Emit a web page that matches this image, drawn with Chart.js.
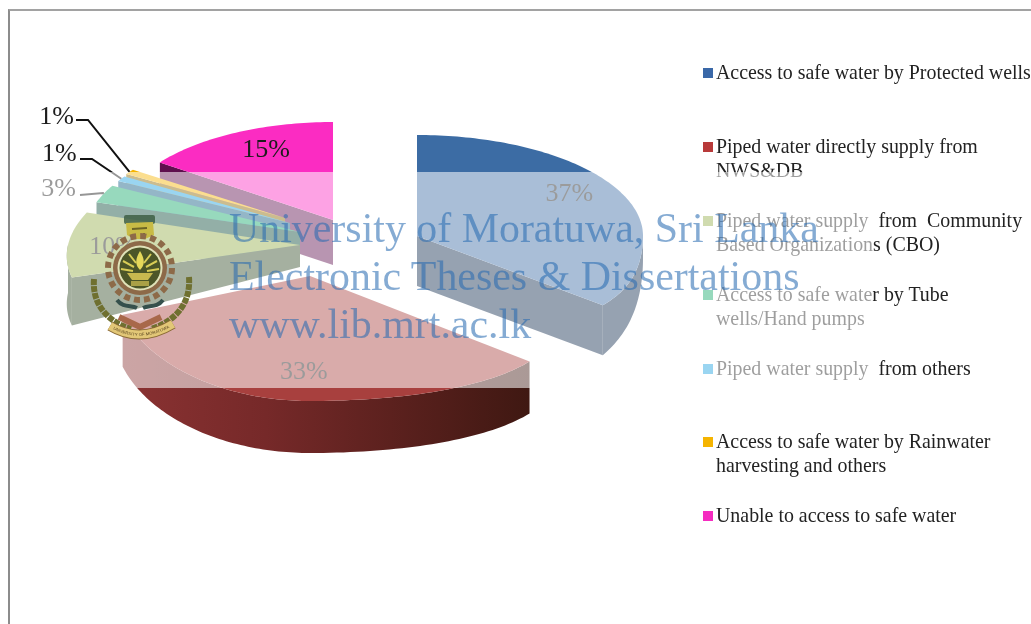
<!DOCTYPE html>
<html>
<head>
<meta charset="utf-8">
<title>Access to safe water</title>
<script src="https://cdn.jsdelivr.net/npm/chart.js@4/dist/chart.umd.min.js"></script>
<style>
    html, body { margin: 0; padding: 0; background: #fff; overflow: hidden; }
    #page { position: relative; width: 1031px; height: 624px; overflow: hidden; font-family: "Liberation Serif", serif; }
    #pieChart { position: absolute; left: 0; top: 0; }
    #frame { position: absolute; left: 8px; top: 9px; width: 1040px; height: 640px; border-top: 2px solid #a2a2a2; border-left: 2px solid #8c8c8c; }
    .legend-row { position: absolute; left: 716px; font-size: 19.9px; line-height: 23.5px; color: #222; white-space: pre; }
    .legend-box { position: absolute; left: 703px; width: 10px; height: 10px; }
    #band { position: absolute; left: 30px; top: 172px; width: 843px; height: 216px; background: rgba(255, 255, 255, 0.56); }
    .mark-line { position: absolute; left: 229px; font-size: 41.9px; line-height: 48px; white-space: nowrap; color: rgba(38, 106, 176, 0.56); }
    #crest { position: absolute; left: 85px; top: 205px; }
</style>
</head>
<body>
<div id="page">
    <canvas id="pieChart" width="1031" height="624"></canvas>
    <div id="frame"></div>
    <div id="legend"></div>
    <div id="band"></div>
    <div class="mark-line" style="top: 204px">University of Moratuwa, Sri Lanka</div>
    <div class="mark-line" style="top: 252px">Electronic Theses &amp; Dissertations</div>
    <div class="mark-line" style="top: 300px">www.lib.mrt.ac.lk</div>
    <svg id="crest" width="110" height="140" viewBox="0 0 110 140">
        <!-- lion on top -->
        <rect x="39" y="10" width="31" height="9" rx="2" fill="#3f5f45" opacity="0.85"/>
        <path d="M41 18 L68 17 L69 30 L60 34 L49 34 L42 30 Z" fill="#c8bb45"/>
        <path d="M47 24 L62 23 M50 29 L50 34 M59 28 L59 34" stroke="#6b6426" stroke-width="2" fill="none"/>
        <!-- wreath -->
        <path d="M9 74 C7 98 21 116 46 124" stroke="#6f7030" stroke-width="6" fill="none" stroke-dasharray="6 1"/>
        <path d="M104 72 C106 98 91 116 66 124" stroke="#6f7030" stroke-width="6" fill="none" stroke-dasharray="6 1"/>
        <path d="M32 95 C38 103 46 100 52 103 M78 95 C72 103 64 100 58 103" stroke="#35504c" stroke-width="4" fill="none"/>
        <path d="M34 112 L55 122 L76 112" stroke="#a8684a" stroke-width="6" fill="none"/>
        <!-- gear -->
        <circle cx="55" cy="63" r="32" fill="none" stroke="#8d6a48" stroke-width="6" stroke-dasharray="6 4.05"/>
        <circle cx="55" cy="63" r="27" fill="#8d6a48"/>
        <circle cx="55" cy="63" r="22.5" fill="#dfe2b8"/>
        <circle cx="55" cy="63" r="20.5" fill="#4c5628"/>
        <!-- flame and bowl -->
        <path d="M55 46 C60 54 60 60 55 65 C50 60 50 54 55 46 Z" fill="#e5d85a"/>
        <path d="M38 56 L49 62 M72 56 L61 62 M36 64 L48 66 M74 64 L62 66 M44 49 L51 58 M66 49 L59 58" stroke="#d8cd56" stroke-width="2"/>
        <path d="M42 68 L68 68 L63 75 L47 75 Z" fill="#c9b94f"/>
        <rect x="46" y="76" width="18" height="5" fill="#a9a046"/>
        <!-- ribbon -->
        <path id="ribbonPath" d="M25 121 Q55 139 88 119" stroke="#8a6a35" stroke-width="10" fill="none"/>
        <path d="M25 121 Q55 139 88 119" stroke="#e2c777" stroke-width="8" fill="none"/>
        <text font-size="4.2" font-family="Liberation Sans" fill="#5a4520" dy="1.4"><textPath href="#ribbonPath" startOffset="4">UNIVERSITY OF MORATUWA</textPath></text>
    </svg>
</div>

<script>
// Share of households by water source (%)
const sourceLabels = [
    ['Access to safe water by Protected wells'],
    ['Piped water directly supply from', 'NWS&DB'],
    ['Piped water supply  from  Community', 'Based Organizations (CBO)'],
    ['Access to safe water by Tube', 'wells/Hand pumps'],
    ['Piped water supply  from others'],
    ['Access to safe water by Rainwater', 'harvesting and others'],
    ['Unable to access to safe water']
];
const sourceShares = [37, 33, 10, 3, 1, 1, 15];

const topColors = ['#3c6ca4', '#a8403e', '#94ad49', '#13a86a', '#1aa0e0', '#f5b400', '#fb2cc2'];
const wallColors = ['#122c4e', '#7a2a2a', '#344b27', '#0a4a38', '#0c5a80', '#8a6800', '#5e0f4e'];
const boxColors = ['#3a68a8', '#b83a3a', '#94ad49', '#13a86a', '#1aa0e0', '#f5b400', '#f52cc0'];
const legendTops = [61, 135, 209, 283, 357, 430, 504];

// Exploded 3D look: every slice has its own apex, radii and wall height
const sliceApex = [[417, 236], [310, 276], [300, 245], [300, 232], [290, 223], [285, 218], [333, 220]];
const sliceRadius = [[226, 226, 101], [267, 197, 125], [0, 232, 105], [0, 214, 96], [0, 196, 87], [0, 188, 82], [0, 214, 98]];
const sliceShear = [0, 0, 0.23, 0, 0, 0, 0];
const sliceDepth = [50, 52, 48, 47, 47, 46, 45];
const apexDepth = [50, 52, 22, 35, 42, 46, 45];
const rimTaper = [0.55, 0, 0, 0, 0, 0, 0];
const drawOrder = [0, 1, 6, 5, 4, 3, 2];
const frontStretch = 0.273;

// Label placement: fraction of the radius along the middle of the slice, then a small nudge
const labelReach = [0.85, 0.77, 1, 1, 1, 1, 0.75];
const labelNudge = [[-24, -8], [27, 2], [45, 2], [-45, -5], [-62, -25], [-73, -55], [6, -4]];
const leaderKnees = [null, null, null, [[103, 193], [80, 195]], [[92, 159], [80, 159]], [[88, 120], [76, 120]], null];

function project(i, angle, reach, drop) {
    const [cx, cy] = sliceApex[i];
    const [rxRight, rxLeft, ry] = sliceRadius[i];
    const s = Math.sin(angle);
    const c = Math.cos(angle);
    const front = Math.max(0, -c);
    const rx = s > 0 ? rxRight * (1 + frontStretch * front * front) : rxLeft;
    const dy = -ry * c * reach;
    return [cx + rx * s * reach - sliceShear[i] * dy, cy + dy + (drop || 0)];
}

function tracePoints(ctx, points) {
    ctx.beginPath();
    points.forEach((p, n) => {
        if (n === 0) ctx.moveTo(p[0], p[1]);
        else ctx.lineTo(p[0], p[1]);
    });
    ctx.closePath();
}

function arcPoints(i, from, to, dropAt) {
    const pts = [];
    const steps = Math.max(2, Math.ceil((to - from) / 0.02));
    for (let n = 0; n <= steps; n++) {
        const t = n / steps;
        pts.push(project(i, from + (to - from) * t, 1, dropAt(t)));
    }
    return pts;
}

function drawSlice(ctx, i, start, end) {
    const depth = sliceDepth[i];
    const apex = sliceApex[i];
    const apexLow = [apex[0], apex[1] + apexDepth[i]];

    // side faces turned towards the viewer
    ctx.fillStyle = wallColors[i];
    if (Math.sin(start) < -0.001) {
        tracePoints(ctx, [apex, project(i, start, 1), project(i, start, 1, depth), apexLow]);
        ctx.fill();
    }
    if (Math.sin(end) > 0.001) {
        tracePoints(ctx, [apex, project(i, end, 1), project(i, end, 1, depth), apexLow]);
        ctx.fill();
    }

    // rim, only the front half can be seen
    const rimFrom = Math.max(start, Math.PI / 2);
    const rimTo = Math.min(end, Math.PI * 1.5);
    if (rimTo > rimFrom) {
        const upper = arcPoints(i, rimFrom, rimTo, () => 0);
        const lower = arcPoints(i, rimFrom, rimTo, t => depth * (1 - rimTaper[i] * (1 - t))).reverse();
        if (i === 1) {
            const shade = ctx.createLinearGradient(123, 0, 530, 0);
            shade.addColorStop(0, '#8a3232');
            shade.addColorStop(0.35, '#762929');
            shade.addColorStop(1, '#3f1812');
            ctx.fillStyle = shade;
        }
        tracePoints(ctx, upper.concat(lower));
        ctx.fill();
    }

    // top face
    ctx.fillStyle = topColors[i];
    tracePoints(ctx, [apex].concat(arcPoints(i, start, end, () => 0)));
    ctx.fill();
}

const exploded3d = {
    id: 'exploded3d',
    beforeDatasetsDraw(chart) {
        const ctx = chart.ctx;
        const arcs = chart.getDatasetMeta(0).data;
        // the library's angles start at -90deg, here 0 is twelve o'clock
        const angleOf = a => a + Math.PI / 2;

        ctx.save();
        drawOrder.forEach(i => {
            drawSlice(ctx, i, angleOf(arcs[i].startAngle), angleOf(arcs[i].endAngle));
        });

        ctx.font = '26px "Liberation Serif"';
        ctx.textAlign = 'center';
        ctx.textBaseline = 'middle';
        arcs.forEach((arc, i) => {
            const mid = angleOf((arc.startAngle + arc.endAngle) / 2);
            const p = project(i, mid, labelReach[i]);
            ctx.fillStyle = '#1c1c1c';
            ctx.fillText(sourceShares[i] + '%', p[0] + labelNudge[i][0], p[1] + labelNudge[i][1]);

            if (leaderKnees[i]) {
                ctx.strokeStyle = '#111';
                ctx.lineWidth = 2;
                ctx.beginPath();
                ctx.moveTo(p[0], p[1]);
                leaderKnees[i].forEach(k => ctx.lineTo(k[0], k[1]));
                ctx.stroke();
            }
        });
        ctx.restore();
        return false;
    }
};

document.addEventListener('DOMContentLoaded', function() {
    const legend = document.getElementById('legend');
    sourceLabels.forEach((lines, i) => {
        const box = document.createElement('div');
        box.className = 'legend-box';
        box.style.top = (legendTops[i] + 7) + 'px';
        box.style.background = boxColors[i];
        legend.appendChild(box);

        const row = document.createElement('div');
        row.className = 'legend-row';
        row.style.top = legendTops[i] + 'px';
        row.textContent = lines.join('\n');
        legend.appendChild(row);
    });

    new Chart(document.getElementById('pieChart'), {
        type: 'pie',
        data: {
            labels: sourceLabels.map(lines => lines.join(' ')),
            datasets: [{
                data: sourceShares,
                backgroundColor: topColors,
                borderWidth: 0
            }]
        },
        options: {
            responsive: false,
            animation: false,
            events: [],
            plugins: {
                legend: { display: false },
                tooltip: { enabled: false }
            }
        },
        plugins: [exploded3d]
    });
});
</script>
</body>
</html>
